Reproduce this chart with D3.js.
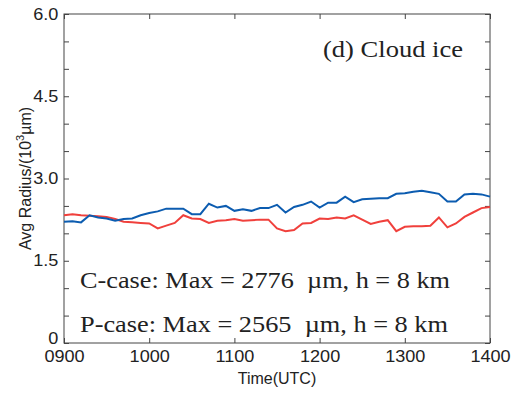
<!DOCTYPE html>
<html>
<head>
<meta charset="utf-8">
<script src="https://d3js.org/d3.v7.min.js"></script>
<style>
  body { margin: 0; background: #fff; }
  svg text { fill: #222; }
</style>
</head>
<body>
<div id="chart"></div>
<script>
// data: average radius (10^3 um), every 6 minutes from 0900 to 1400 UTC
const times = d3.range(0, 51).map(i => 9 + i * 0.1)
const cCase = [2.21, 2.22, 2.20, 2.33, 2.29, 2.27, 2.23, 2.26, 2.27, 2.33,
    2.37, 2.40, 2.45, 2.45, 2.45, 2.35, 2.35, 2.54, 2.47, 2.50,
    2.41, 2.44, 2.41, 2.46, 2.46, 2.52, 2.38, 2.48, 2.52, 2.58,
    2.47, 2.56, 2.56, 2.67, 2.57, 2.62, 2.63, 2.64, 2.64, 2.72,
    2.73, 2.76, 2.776, 2.75, 2.72, 2.58, 2.58, 2.71, 2.72, 2.71, 2.67]
const pCase = [2.33, 2.35, 2.33, 2.32, 2.31, 2.30, 2.26, 2.21, 2.20, 2.19,
    2.18, 2.09, 2.14, 2.19, 2.33, 2.27, 2.26, 2.19, 2.23, 2.24,
    2.26, 2.23, 2.24, 2.25, 2.25, 2.09, 2.04, 2.06, 2.18, 2.19,
    2.27, 2.26, 2.29, 2.27, 2.33, 2.25, 2.17, 2.21, 2.24, 2.04,
    2.12, 2.13, 2.13, 2.14, 2.29, 2.11, 2.18, 2.30, 2.38, 2.46, 2.48]
const xTicks = [9, 10, 11, 12, 13, 14]
const xTickLabels = ['0900', '1000', '1100', '1200', '1300', '1400']
const yTicks = d3.range(0, 6.01, 0.5)
const yTickLabels = { 0: '0', 1.5: '1.5', 3: '3.0', 4.5: '4.5', 6: '6.0' }

const margin = { top: 14, right: 23, bottom: 51, left: 64 },
    width = 513 - margin.left - margin.right,
    height = 394 - margin.top - margin.bottom

const svg = d3.select('#chart')
    .append('svg')
    .attr('width', 513)
    .attr('height', 394)
const g = svg.append('g')
    .attr('transform', 'translate(' + margin.left + ',' + margin.top + ')')

const x = d3.scaleLinear().domain([9, 14]).range([0, width])
const y = d3.scaleLinear().domain([0, 6]).range([height, 0])

// box
g.append('rect')
    .attr('width', width).attr('height', height)
    .attr('fill', 'none').attr('stroke', '#444').attr('stroke-width', 1)

// inward ticks on all four sides
const tickLen = 5
const axStyle = sel => {
    sel.select('.domain').remove()
    sel.selectAll('line').attr('stroke', '#444')
}
g.append('g').attr('transform', 'translate(0,' + height + ')')
    .call(d3.axisBottom(x).tickValues(xTicks).tickSize(-tickLen)
        .tickFormat((d, i) => xTickLabels[i]).tickPadding(8))
    .call(axStyle)
    .selectAll('text')
    .attr('font-family', 'Liberation Sans, Arial, sans-serif')
    .attr('font-size', 16).attr('fill', '#222')
    .attr('transform', 'scale(1.13,1)')
g.append('g')
    .call(d3.axisTop(x).tickValues(xTicks).tickSize(-tickLen).tickFormat(''))
    .call(axStyle)
g.append('g')
    .call(d3.axisLeft(y).tickValues(yTicks).tickSize(-tickLen)
        .tickFormat(d => yTickLabels[d] || '').tickPadding(5))
    .call(axStyle)
    .selectAll('text')
    .attr('font-family', 'Liberation Sans, Arial, sans-serif')
    .attr('font-size', 16).attr('fill', '#222')
    .attr('dy', d => d === 0 ? '0.02em' : '0.32em')
    .attr('transform', 'scale(1.13,1)')
g.append('g').attr('transform', 'translate(' + width + ',0)')
    .call(d3.axisRight(y).tickValues(yTicks).tickSize(-tickLen).tickFormat(''))
    .call(axStyle)

// lines
const line = data => d3.line()
    .x((d, i) => x(times[i]))
    .y(d => y(d))(data)
g.append('path').attr('d', line(pCase))
    .attr('fill', 'none').attr('stroke', '#f0403c').attr('stroke-width', 2)
g.append('path').attr('d', line(cCase))
    .attr('fill', 'none').attr('stroke', '#0c5cb0').attr('stroke-width', 2)

// axis labels
svg.append('text')
    .attr('x', margin.left + width / 2).attr('y', 384)
    .attr('text-anchor', 'middle')
    .attr('font-family', 'Liberation Sans, Arial, sans-serif')
    .attr('font-size', 16)
    .text('Time(UTC)')
const yl = svg.append('text')
    .attr('transform', 'translate(31,' + (margin.top + height / 2) + ') rotate(-90)')
    .attr('text-anchor', 'middle')
    .attr('font-family', 'Liberation Sans, Arial, sans-serif')
    .attr('font-size', 16)
yl.append('tspan').text('Avg Radius/(10')
yl.append('tspan').attr('font-size', 11).attr('dy', -7).text('3')
yl.append('tspan').attr('dy', 7).text('\u00b5m)')

// annotations
const serif = 'Liberation Serif, Times New Roman, serif'
svg.append('text').attr('x', 323).attr('y', 57)
    .attr('font-family', serif).attr('font-size', 23)
    .attr('textLength', 140).attr('lengthAdjust', 'spacingAndGlyphs')
    .text('(d) Cloud ice')
svg.append('text').attr('x', 80).attr('y', 288)
    .attr('font-family', serif).attr('font-size', 23)
    .attr('textLength', 370).attr('lengthAdjust', 'spacingAndGlyphs')
    .text('C-case: Max = 2776\u00a0 \u00b5m, h = 8 km')
svg.append('text').attr('x', 80).attr('y', 332)
    .attr('font-family', serif).attr('font-size', 23)
    .attr('textLength', 368).attr('lengthAdjust', 'spacingAndGlyphs')
    .text('P-case: Max = 2565\u00a0 \u00b5m, h = 8 km')
</script>
</body>
</html>
